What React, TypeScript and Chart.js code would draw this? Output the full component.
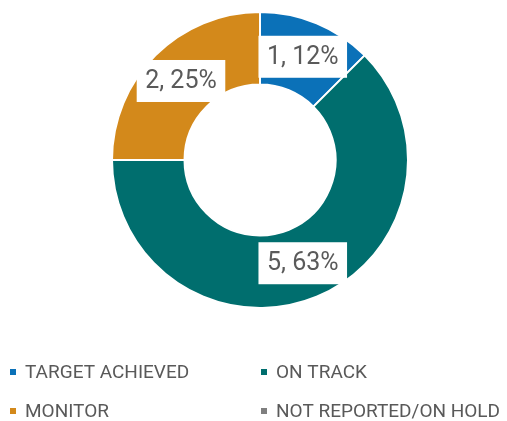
import React, { useEffect, useRef } from "react";
import { Chart, registerables } from "chart.js";

Chart.register(...registerables);

const categories = ["TARGET ACHIEVED", "ON TRACK", "MONITOR", "NOT REPORTED/ON HOLD"];
const counts = [1, 5, 2, 0];
const percentLabels = ["12%", "63%", "25%", "0%"];
const colors = ["#0B71B8", "#006E6E", "#D3891B", "#7F7F7F"];

const sliceLabels = {
  id: "sliceLabels",
  afterDatasetsDraw(chart: any) {
    const ctx = chart.ctx;
    const meta = chart.getDatasetMeta(0);
    ctx.save();
    ctx.font = "400 25px Roboto";
    ctx.textAlign = "center";
    ctx.textBaseline = "middle";
    meta.data.forEach((arc: any, i: number) => {
      if (!counts[i]) return;
      const p = arc.tooltipPosition();
      const text = `${counts[i]}, ${percentLabels[i]}`;
      const w = ctx.measureText(text).width + 17;
      const h = 42;
      ctx.fillStyle = "#ffffff";
      ctx.fillRect(p.x - w / 2, p.y - h / 2, w, h);
      ctx.fillStyle = "#5a5a5a";
      ctx.fillText(text, p.x, p.y + 1);
    });
    ctx.restore();
  },
};

const gridLegend = {
  id: "gridLegend",
  afterDraw(chart: any) {
    const ctx = chart.ctx;
    ctx.save();
    ctx.font = "400 19px Roboto";
    ctx.textBaseline = "middle";
    ctx.textAlign = "left";
    const colX = [10, 261];
    const rowY = [372, 411];
    categories.forEach((c, i) => {
      const x = colX[i % 2];
      const y = rowY[Math.floor(i / 2)];
      ctx.fillStyle = colors[i];
      ctx.fillRect(x, y - 3, 6, 6);
      ctx.fillStyle = "#595959";
      ctx.fillText(c, x + 15, y + 1);
    });
    ctx.restore();
  },
};

export default function App() {
  const ref = useRef<HTMLCanvasElement>(null);
  useEffect(() => {
    document.body.style.margin = "0";
    const chart = new Chart(ref.current!, {
      type: "doughnut",
      data: {
        labels: categories,
        datasets: [
          {
            data: counts,
            backgroundColor: colors,
            borderColor: "#ffffff",
            borderWidth: 2,
            hoverOffset: 0,
          },
        ],
      },
      options: {
        animation: false,
        responsive: false,
        cutout: "51%",
        layout: { padding: { left: 13, right: 0, top: 11, bottom: 112 } },
        plugins: {
          legend: { display: false },
          tooltip: { enabled: false },
        },
      },
      plugins: [sliceLabels, gridLegend],
    });
    return () => chart.destroy();
  }, []);
  return (
    <div style={{ position: "absolute", left: 0, top: 0, width: 507, height: 421 }}>
      <canvas ref={ref} width={507} height={421} style={{ width: 507, height: 421 }} />
    </div>
  );
}
